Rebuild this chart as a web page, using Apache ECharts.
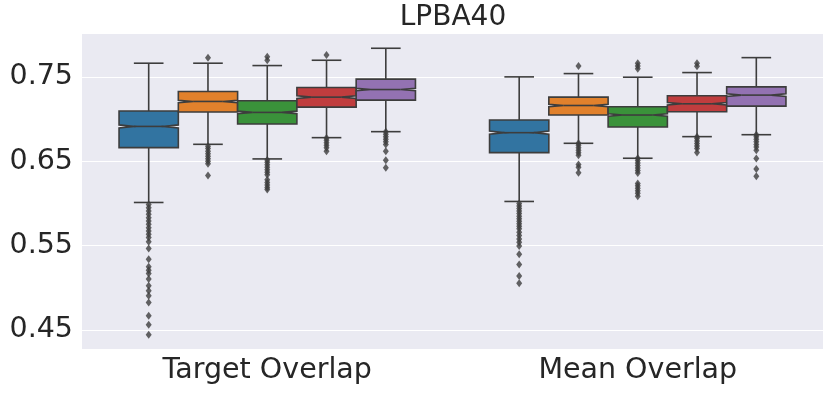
<!DOCTYPE html>
<html>
<head>
<meta charset="utf-8">
<script src="https://cdn.jsdelivr.net/npm/echarts@6/dist/echarts.min.js"></script>
<style>
  html, body { margin: 0; padding: 0; background: #fff; }
  #chart { width: 831px; height: 396px; }
</style>
</head>
<body>
<div id="chart"></div>
<script>
var categories = ['Target Overlap', 'Mean Overlap']
var yTicks = [0.45, 0.55, 0.65, 0.75]
var colors = ['#3274a1', '#e1812c', '#3a923a', '#c03d3e', '#9372b2']

// [lower whisker, q1, median, q3, upper whisker], one row per hue
var targetStats = [
  [0.6012, 0.6662, 0.6913, 0.7095, 0.7662],
  [0.6701, 0.7083, 0.7209, 0.7327, 0.7662],
  [0.6528, 0.6941, 0.7079, 0.7217, 0.7634],
  [0.6780, 0.7142, 0.7260, 0.7374, 0.7697],
  [0.6851, 0.7225, 0.7350, 0.7473, 0.7839]
]
var meanStats = [
  [0.6024, 0.6603, 0.6839, 0.6989, 0.7500],
  [0.6713, 0.7048, 0.7161, 0.7260, 0.7539],
  [0.6536, 0.6906, 0.7048, 0.7146, 0.7496],
  [0.6792, 0.7087, 0.7181, 0.7276, 0.7551],
  [0.6815, 0.7154, 0.7284, 0.7382, 0.7728]
]
// half height of the notch around the median
var targetNotch = [0.0018, 0.0015, 0.0015, 0.0015, 0.0015]
var meanNotch = [0.0018, 0.0015, 0.0015, 0.0015, 0.0015]

var targetOutliers = [
  [0.5989, 0.595, 0.591, 0.5871, 0.5832, 0.5792, 0.5753, 0.5714, 0.5674, 0.5635, 0.5596, 0.5548,
   0.5466, 0.534, 0.5249, 0.521, 0.5171, 0.5104, 0.5024, 0.4965, 0.4906, 0.4828, 0.467, 0.4564, 0.4446],
  [0.7728, 0.6677, 0.665, 0.662, 0.659, 0.656, 0.653, 0.65, 0.647, 0.6331],
  [0.7737, 0.7697, 0.6516, 0.649, 0.646, 0.643, 0.640, 0.637, 0.634, 0.628, 0.625, 0.622, 0.619, 0.6166],
  [0.776, 0.6776, 0.675, 0.672, 0.669, 0.666, 0.6618],
  [0.685, 0.682, 0.679, 0.676, 0.673, 0.670, 0.6618, 0.6512, 0.6422]
]
var meanOutliers = [
  [0.600, 0.597, 0.594, 0.591, 0.588, 0.585, 0.582, 0.579, 0.576, 0.573, 0.570, 0.566, 0.562,
   0.558, 0.554, 0.5497, 0.5398, 0.5278, 0.5142, 0.5056],
  [0.763, 0.6713, 0.669, 0.666, 0.663, 0.660, 0.657, 0.6461, 0.643, 0.6363],
  [0.7662, 0.763, 0.7595, 0.6536, 0.651, 0.648, 0.645, 0.642, 0.639, 0.636, 0.6237, 0.621, 0.618, 0.615, 0.612, 0.6087],
  [0.7662, 0.7625, 0.6792, 0.677, 0.674, 0.671, 0.668, 0.665, 0.6605],
  [0.6815, 0.679, 0.676, 0.673, 0.670, 0.667, 0.6632, 0.6532, 0.641, 0.6323]
]

var hueWidth = 0.16
var lineColor = '#3d3d3d'
var font = 'DejaVu Sans'

var boxData = []
var outlierData = []
;[[targetStats, targetNotch, targetOutliers], [meanStats, meanNotch, meanOutliers]].forEach((grp, ci) => {
  grp[0].forEach((s, h) => {
    var x = ci + (h - 2) * hueWidth
    boxData.push([x, s[0], s[1], s[2], s[3], s[4], grp[1][h], h])
    grp[2][h].forEach(v => outlierData.push([x, v]))
  })
})

function renderBox(params, api) {
  var x = api.value(0)
  var lo = api.value(1), q1 = api.value(2), med = api.value(3), q3 = api.value(4), hi = api.value(5)
  var n = api.value(6), h = api.value(7)
  var hw = hueWidth / 2
  var p = (a, b) => api.coord([a, b])
  var lineStyle = { stroke: lineColor, lineWidth: 1.6 }
  var line = (a, b) => ({ type: 'line', shape: { x1: a[0], y1: a[1], x2: b[0], y2: b[1] }, style: lineStyle })
  var pts = [
    p(x - hw, q1), p(x + hw, q1), p(x + hw, med - n), p(x + hw / 2, med), p(x + hw, med + n),
    p(x + hw, q3), p(x - hw, q3), p(x - hw, med + n), p(x - hw / 2, med), p(x - hw, med - n)
  ]
  return {
    type: 'group',
    children: [
      line(p(x, lo), p(x, q1)),
      line(p(x, q3), p(x, hi)),
      line(p(x - hw / 2, lo), p(x + hw / 2, lo)),
      line(p(x - hw / 2, hi), p(x + hw / 2, hi)),
      { type: 'polygon', shape: { points: pts }, style: { fill: colors[h], stroke: lineColor, lineWidth: 1.6 } },
      line(p(x - hw / 2, med), p(x + hw / 2, med))
    ]
  }
}

var chart = echarts.init(document.getElementById('chart'))
chart.setOption({
  animation: false,
  title: {
    text: 'LPBA40',
    left: 453,
    top: 4,
    padding: 0,
    textAlign: 'center',
    textStyle: { fontFamily: font, fontSize: 28, fontWeight: 'normal', color: '#262626' }
  },
  grid: {
    left: 82, right: 8, top: 34, bottom: 47,
    show: true, backgroundColor: '#eaeaf2', borderWidth: 0
  },
  xAxis: [{
    type: 'category',
    data: categories,
    axisLine: { show: false },
    axisTick: { show: false },
    axisLabel: { margin: 7, fontFamily: font, fontSize: 28.5, color: '#262626' },
    splitLine: { show: false }
  }, {
    type: 'value',
    min: -0.5,
    max: 1.5,
    show: false
  }],
  yAxis: {
    type: 'value',
    min: 0.4276,
    max: 0.8008,
    axisLine: { show: false },
    axisTick: { show: false, customValues: yTicks },
    axisLabel: {
      customValues: yTicks, margin: 9,
      fontFamily: font, fontSize: 28.5, color: '#262626',
      formatter: v => v.toFixed(2)
    },
    splitLine: { show: true, lineStyle: { color: '#ffffff', width: 1.2 } }
  },
  series: [{
    type: 'custom',
    xAxisIndex: 1,
    renderItem: renderBox,
    encode: { x: 0, y: [1, 2, 3, 4, 5] },
    data: boxData,
    z: 2
  }, {
    type: 'scatter',
    xAxisIndex: 1,
    symbol: 'diamond',
    symbolSize: [6, 8],
    itemStyle: { color: lineColor },
    data: outlierData,
    z: 3
  }]
})
</script>
</body>
</html>
